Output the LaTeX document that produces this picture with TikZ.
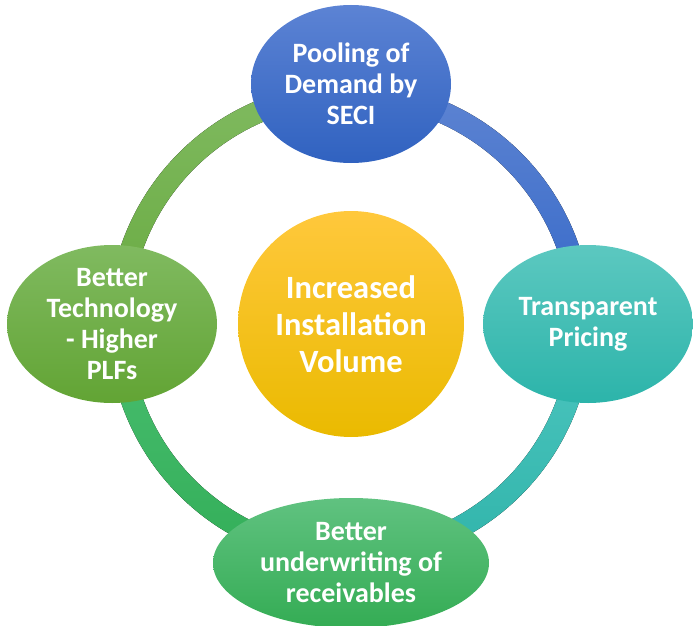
\documentclass[tikz,border=0pt]{standalone}
\usepackage{fontspec}
\setmainfont{Carlito}
\usetikzlibrary{shapes.geometric}
\definecolor{blueT}{RGB}{92,131,212}
\definecolor{blueB}{RGB}{48,98,192}
\definecolor{tealT}{RGB}{92,200,192}
\definecolor{tealB}{RGB}{44,180,170}
\definecolor{grnT}{RGB}{96,194,128}
\definecolor{grnB}{RGB}{52,172,84}
\definecolor{lgrT}{RGB}{128,186,96}
\definecolor{lgrB}{RGB}{98,164,52}
\definecolor{goldT}{RGB}{255,200,60}
\definecolor{goldB}{RGB}{234,186,0}
\definecolor{ringBlueT}{RGB}{94,132,210}
\definecolor{ringBlueB}{RGB}{52,104,200}
\definecolor{ringTealT}{RGB}{78,198,192}
\definecolor{ringTealB}{RGB}{48,180,170}
\definecolor{ringGrnT}{RGB}{74,190,112}
\definecolor{ringGrnB}{RGB}{50,174,88}
\definecolor{ringLgrT}{RGB}{128,186,96}
\definecolor{ringLgrB}{RGB}{104,170,64}
\tikzset{
  ellbox/.style={ellipse, inner sep=0pt, align=center, text=white,
    font=\bfseries\fontsize{28}{31}\selectfont},
  hubbox/.style={circle, inner sep=0pt, align=center, text=white,
    font=\bfseries\fontsize{32.5}{37}\selectfont}
}
\begin{document}
\begin{tikzpicture}[x=1pt,y=-1pt]
\useasboundingbox (0,0) rectangle (693,626);
\clip (0,0) rectangle (693,626);
\coordinate (c) at (350,324);
% ring segments
\fill[top color=ringBlueT, bottom color=ringBlueB]
  ([shift={(-90:242)}]c) arc[start angle=-90,end angle=0,radius=242]
  -- ([shift={(0:220)}]c) arc[start angle=0,end angle=-90,radius=220] -- cycle;
\fill[top color=ringTealT, bottom color=ringTealB]
  ([shift={(0:242)}]c) arc[start angle=0,end angle=90,radius=242]
  -- ([shift={(90:220)}]c) arc[start angle=90,end angle=0,radius=220] -- cycle;
\fill[top color=ringGrnT, bottom color=ringGrnB]
  ([shift={(90:242)}]c) arc[start angle=90,end angle=180,radius=242]
  -- ([shift={(180:220)}]c) arc[start angle=180,end angle=90,radius=220] -- cycle;
\fill[top color=ringLgrT, bottom color=ringLgrB]
  ([shift={(180:242)}]c) arc[start angle=180,end angle=270,radius=242]
  -- ([shift={(270:220)}]c) arc[start angle=270,end angle=180,radius=220] -- cycle;
% nodes
\node[hubbox, top color=goldT, bottom color=goldB, minimum size=226pt] (hub) at (351,324) {Increased\\Installation\\Volume};
\node[ellbox, top color=blueT, bottom color=blueB, minimum width=200pt, minimum height=158pt] (pool) at (351,84) {Pooling of\\Demand by\\SECI};
\node[ellbox, top color=tealT, bottom color=tealB, minimum width=210pt, minimum height=158pt] (price) at (588,324) {Transparent\\Pricing};
\node[ellbox, top color=grnT, bottom color=grnB, minimum width=276pt, minimum height=130pt] (under) at (351,563) {Better\\underwriting of\\receivables};
\node[ellbox, top color=lgrT, bottom color=lgrB, minimum width=210pt, minimum height=158pt] (tech) at (112,324) {Better\\Technology\\- Higher\\PLFs};
\end{tikzpicture}
\end{document}
